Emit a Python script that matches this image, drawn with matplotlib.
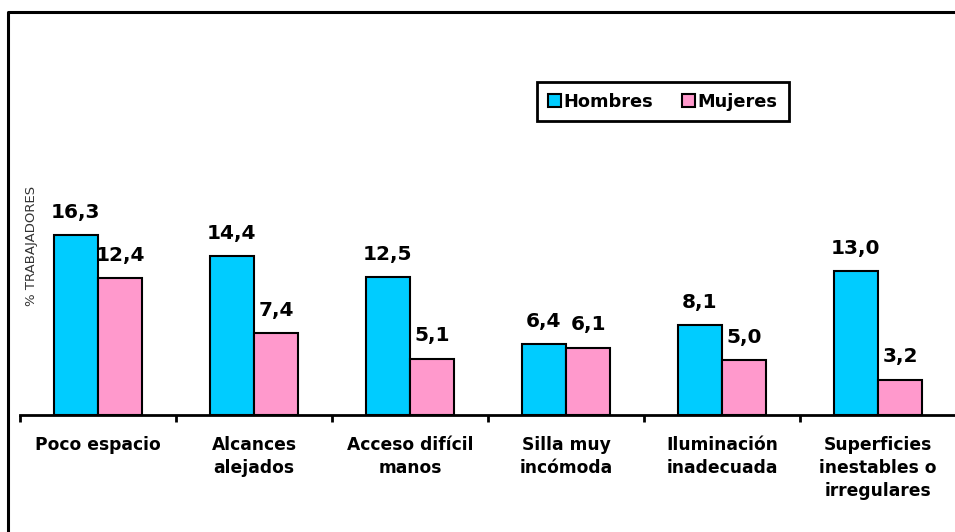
import numpy as np
import matplotlib.pyplot as plt
from matplotlib.lines import Line2D

categorias = ['Poco espacio', 'Alcances\nalejados', 'Acceso difícil\nmanos',
              'Silla muy\nincómoda', 'Iluminación\ninadecuada',
              'Superficies\ninestables o\nirregulares']
hombres = [16.3, 14.4, 12.5, 6.4, 8.1, 13.0]
mujeres = [12.4, 7.4, 5.1, 6.1, 5.0, 3.2]

plt.rcParams['font.family'] = 'DejaVu Sans'

fig = plt.figure(figsize=(9.55, 5.32), dpi=100)
W, H = 955, 532

# marco exterior (solo se ven los lados izquierdo y superior)
fig.add_artist(Line2D([8/W, 8/W, 1.0], [0.0, 1-12/H, 1-12/H],
                      transform=fig.transFigure, color='black', lw=2.2))

ax = fig.add_axes([20/W, (H-415)/H, 936/W, 375/H])

x = np.arange(len(categorias))
w = 0.285
b1 = ax.bar(x - w/2, hombres, w, color='#00CCFF', edgecolor='black', lw=1.5, label='Hombres')
b2 = ax.bar(x + w/2, mujeres, w, color='#FF99CC', edgecolor='black', lw=1.5, label='Mujeres')

for barras, vals in ((b1, hombres), (b2, mujeres)):
    for r, v in zip(barras, vals):
        ax.annotate(f'{v:.1f}'.replace('.', ','),
                    (r.get_x() + r.get_width()/2, v),
                    xytext=(0, 9.5), textcoords='offset points',
                    ha='center', va='bottom', fontsize=14.5, fontweight='bold')

ax.set_xlim(-0.5, len(categorias) - 0.5)
ax.set_ylim(0, 375/11.05)

for s in ('left', 'right', 'top'):
    ax.spines[s].set_visible(False)
ax.spines['bottom'].set_linewidth(2)

ax.set_xticks(x)
ax.set_xticklabels(categorias, fontsize=12.3, fontweight='bold', linespacing=1.35, va='top')
ax.tick_params(axis='x', which='major', length=0, pad=15)
ax.set_xticks(np.arange(len(categorias)) - 0.5, minor=True)
ax.tick_params(axis='x', which='minor', length=5, width=2, direction='out')
ax.set_yticks([])

ax.set_ylabel('% TRABAJADORES', fontsize=9.5, color='#333333')
ax.yaxis.set_label_coords(18/936, 0.45)

leg = ax.legend(loc='upper left', bbox_to_anchor=((537-20)/936, 1-(82-40)/375),
                ncol=2, frameon=True, fancybox=False, edgecolor='black',
                framealpha=1, prop={'weight': 'bold', 'size': 12.8},
                handlelength=0.75, handleheight=0.75, handletextpad=0.15,
                columnspacing=1.6, borderpad=0.6, borderaxespad=0)
leg.get_frame().set_linewidth(2)

fig.savefig('out.png', dpi=100)
